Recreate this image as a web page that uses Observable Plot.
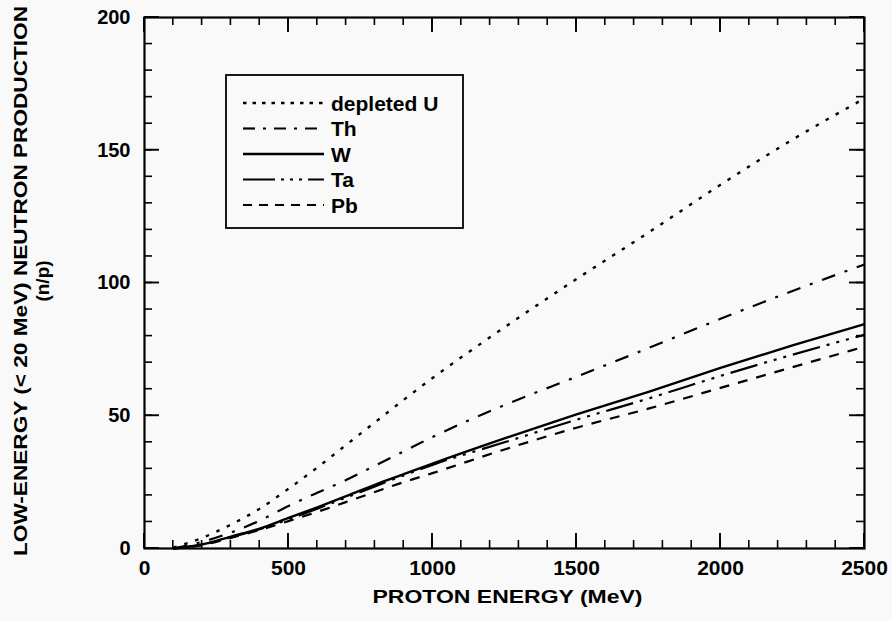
<!DOCTYPE html>
<html>
<head>
<meta charset="utf-8">
<script src="https://cdn.jsdelivr.net/npm/d3@7"></script>
<script src="https://cdn.jsdelivr.net/npm/@observablehq/plot@0.6"></script>
<style>
  html, body { margin: 0; padding: 0; background: #f9f9f9; }
  #chart { width: 892px; height: 621px; }
</style>
</head>
<body>
<div id="chart"></div>
<script>
// ---- data ----
const energy    = [100, 200, 300, 400, 500, 600, 700, 800, 900, 1000, 1250, 1500, 1750, 2000, 2250, 2500];
const depletedU = [0.3, 4, 9, 15, 22.5, 30.5, 39, 47.5, 56, 64.2, 83.3, 101.5, 119, 137, 154, 169.5];
const thorium   = [0, 2.5, 6, 10.5, 16, 21, 25.8, 31.2, 36.6, 42, 54, 64.7, 75.5, 86.5, 97, 107];
const tungsten  = [0, 1.5, 4.5, 7.5, 11.5, 15.5, 19.7, 24, 28, 32, 41.5, 50.5, 59, 68, 76.5, 84.5];
const tantalum  = [0, 1.5, 4.3, 7.3, 11, 15, 19.2, 23.4, 27.5, 31.5, 40, 48.5, 56.5, 65, 73, 80.5];
const lead      = [0, 1.3, 4, 7, 10.3, 13.8, 17.5, 21.3, 25, 28.4, 37.3, 45.5, 52.7, 60.5, 68.3, 76];

const seriesNames = ["depleted U", "Th", "W", "Ta", "Pb"];
const seriesValues = [depletedU, thorium, tungsten, tantalum, lead];
const dashes = ["3.5,8", "14,10,3,10", null, "28,7,3,7,3,7,3,7", "10,9"];
const legendDashes = ["3.5,6", "12,8,3,8", null, "32,6,3,6,3,6,3,6", "9,7"];
const widths = [2.4, 2.2, 2.4, 2.2, 2.2];

const xDomain = [0, 2500];
const yDomain = [0, 200];
const xMajor = [0, 500, 1000, 1500, 2000, 2500];
const xMinor = d3.range(0, 2501, 100);
const yMajor = [0, 50, 100, 150, 200];
const yMinor = d3.range(0, 201, 10);

const xTitle = "PROTON ENERGY (MeV)";
const yTitle = "LOW-ENERGY (< 20 MeV) NEUTRON PRODUCTION";
const yTitle2 = "(n/p)";

const font = "'Liberation Sans', Arial, Helvetica, sans-serif";

const W = 892, H = 621, mL = 144, mR = 28, mT = 17, mB = 73;
const minorLen = 8, majorLen = 15;

const table = seriesNames.map((name, i) => energy.map((e, j) => ({name, e, v: seriesValues[i][j]})));

const marks = [];
// tick labels
marks.push(Plot.axisX(xMajor, {anchor: "bottom", tickSize: 0, tickPadding: 12, fontSize: 21, fontWeight: "bold", label: null, tickFormat: d3.format("d")}));
marks.push(Plot.axisY(yMajor, {anchor: "left", tickSize: 0, tickPadding: 14, fontSize: 20, fontWeight: "bold", label: null, tickFormat: d3.format("d")}));
// curves
table.forEach((rows, i) => {
  marks.push(Plot.line(rows, {x: "e", y: "v", stroke: "#000", strokeWidth: widths[i],
    strokeDasharray: dashes[i], curve: "monotone-x", strokeLinecap: "butt"}));
});
marks.push(Plot.frame({stroke: "#000", strokeWidth: 2.2}));
// axis titles
marks.push(Plot.text([xTitle], {frameAnchor: "bottom", dx: 3, dy: 54, fontSize: 19, fontWeight: "bold", textAnchor: "middle"}));
marks.push(Plot.text([yTitle], {frameAnchor: "left", dx: -124, dy: -2, rotate: -90, fontSize: 19, fontWeight: "bold", textAnchor: "middle"}));
marks.push(Plot.text([yTitle2], {frameAnchor: "left", dx: -102, dy: -2, rotate: -90, fontSize: 19, fontWeight: "bold", textAnchor: "middle"}));

const chart = Plot.plot({
  width: W, height: H,
  marginLeft: mL, marginRight: mR, marginTop: mT, marginBottom: mB,
  style: {background: "transparent", fontFamily: font, color: "#000"},
  x: {domain: xDomain, axis: null},
  y: {domain: yDomain, axis: null},
  marks
});
document.getElementById("chart").appendChild(chart);
const svg = d3.select(chart);

// stretch the axis titles to the width they take in the reference
svg.selectAll("text").filter(function() { return this.textContent === xTitle; })
  .attr("textLength", 270).attr("lengthAdjust", "spacingAndGlyphs");
svg.selectAll("text").filter(function() { return this.textContent === yTitle; })
  .attr("textLength", 550).attr("lengthAdjust", "spacingAndGlyphs");

// ---- inward ticks on all four sides, placed with Plot's own scales ----
const sxo = chart.scale("x"), syo = chart.scale("y");
const sx = sxo.apply ? (v => sxo.apply(v)) : d3.scaleLinear(sxo.domain, sxo.range);
const sy = syo.apply ? (v => syo.apply(v)) : d3.scaleLinear(syo.domain, syo.range);
const x0 = sx(xDomain[0]), x1 = sx(xDomain[1]);
const y0 = sy(yDomain[0]), y1 = sy(yDomain[1]);
const tg = svg.append("g").attr("class", "inward-ticks").attr("stroke", "#000");
for (const [ticks, len, sw] of [[xMinor, minorLen, 1.6], [xMajor, majorLen, 1.9]]) {
  for (const t of ticks) {
    const x = sx(t);
    tg.append("line").attr("x1", x).attr("x2", x).attr("y1", y0).attr("y2", y0 - len).attr("stroke-width", sw);
    tg.append("line").attr("x1", x).attr("x2", x).attr("y1", y1).attr("y2", y1 + len).attr("stroke-width", sw);
  }
}
for (const [ticks, len, sw] of [[yMinor, minorLen, 1.6], [yMajor, majorLen, 1.9]]) {
  for (const t of ticks) {
    const y = sy(t);
    tg.append("line").attr("y1", y).attr("y2", y).attr("x1", x0).attr("x2", x0 + len).attr("stroke-width", sw);
    tg.append("line").attr("y1", y).attr("y2", y).attr("x1", x1).attr("x2", x1 - len).attr("stroke-width", sw);
  }
}

// ---- legend (boxed, inside the plot area) ----
const leg = svg.append("g").attr("class", "legend");
leg.append("rect").attr("x", 226).attr("y", 75).attr("width", 237).attr("height", 153)
  .attr("fill", "none").attr("stroke", "#000").attr("stroke-width", 1.8);
seriesNames.forEach((name, i) => {
  const y = 103 + i * 25.5;
  leg.append("line").attr("x1", 243).attr("x2", 324).attr("y1", y).attr("y2", y)
    .attr("stroke", "#000").attr("stroke-width", widths[i])
    .attr("stroke-dasharray", legendDashes[i]);
  leg.append("text").attr("x", 331).attr("y", y).attr("dy", "0.36em")
    .attr("text-anchor", "start")
    .attr("font-family", font).attr("font-size", 21).attr("font-weight", "bold")
    .text(name);
});
</script>
</body>
</html>
